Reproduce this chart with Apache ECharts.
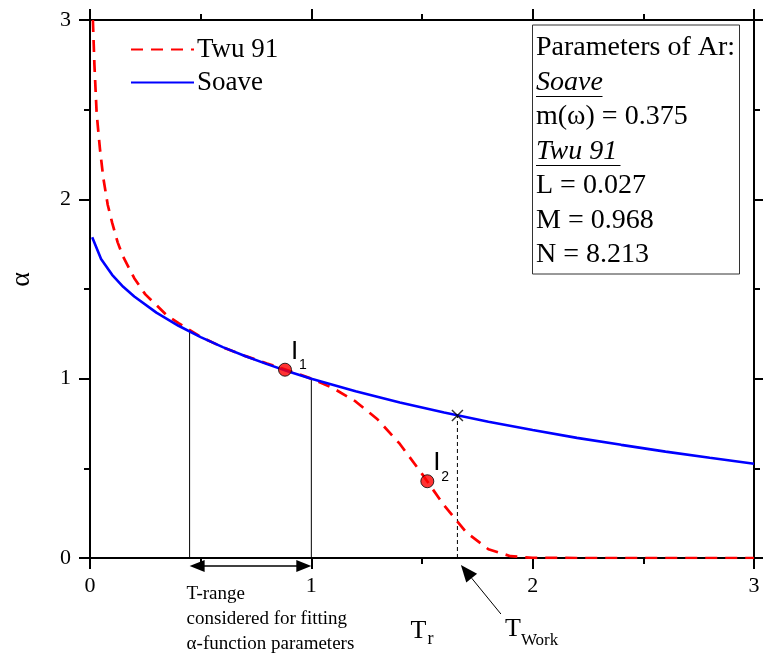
<!DOCTYPE html>
<html><head><meta charset="utf-8">
<script src="https://cdn.jsdelivr.net/npm/echarts@6/dist/echarts.min.js"></script>
<style>html,body{margin:0;padding:0;background:#fff}#c{width:763px;height:653px}</style>
</head><body><div id="c"></div>
<script>
// ---- data ----
const twuTr    = [0.013,0.02,0.03,0.045,0.06,0.08,0.1,0.125,0.15,0.2,0.25,0.3,0.35,0.4,0.5,0.6,0.7,0.8,0.9,1.0,1.1,1.2,1.3,1.4,1.5,1.6,1.7,1.8,1.9,2.0,2.2,2.5,3.0];
const twuAlpha = [3.0,2.75,2.48,2.28,2.12,1.97,1.87,1.76,1.68,1.56,1.47,1.41,1.35,1.31,1.233,1.175,1.127,1.085,1.044,1.0,0.946,0.873,0.772,0.636,0.469,0.293,0.143,0.049,0.010,0.001,0,0,0];
const soaveTr    = [0.01,0.05,0.1,0.15,0.2,0.3,0.4,0.5,0.6,0.7,0.8,0.9,1.0,1.2,1.4,1.6,1.8,2.0,2.2,2.4,2.6,2.8,3.0];
const soaveAlpha = [1.789,1.667,1.579,1.512,1.458,1.368,1.295,1.232,1.176,1.126,1.081,1.039,1.0,0.930,0.867,0.811,0.760,0.714,0.670,0.631,0.593,0.559,0.526];
const fitRangeTr    = [0.45, 1.0];
const fitRangeAlpha = [1.262, 1.0];
const tWork = 1.66, alphaWork = 0.795;
const pointsTr    = [0.881, 1.524];
const pointsAlpha = [1.050, 0.428];
const pointNames  = ['1', '2'];
const xTickLabels = ['0','1','2','3'];
const yTickLabels = ['0','1','2','3'];
const seriesNames = ['Twu 91', 'Soave'];
const paramLines = ['Parameters of Ar:', 'Soave', 'm(\u03c9) = 0.375', 'Twu 91', 'L = 0.027', 'M = 0.968', 'N = 8.213'];

const SERIF = '"Liberation Serif","Times New Roman",serif';
const SANS = '"Liberation Sans",Arial,sans-serif';
const zip = (a, b) => a.map((v, i) => [v, b[i]]);

function makeAxis(position, major, withLabel, extra) {
  const ax = {
    type: 'value', min: 0, max: 3, interval: major ? 1 : 0.5, position: position,
    axisLine: { show: major, onZero: false, lineStyle: { color: '#000', width: 2 } },
    axisTick: { show: true, inside: false, length: major ? 11 : 6, lineStyle: { color: '#000', width: 2 } },
    minorTick: { show: false }, splitLine: { show: false }, minorSplitLine: { show: false },
    axisLabel: { show: false }
  };
  if (withLabel) {
    ax.axisLabel = { show: true, fontFamily: SERIF, fontSize: 22, color: '#000',
      margin: position === 'bottom' ? 17 : 19,
      formatter: v => (position === 'bottom' ? xTickLabels : yTickLabels)[Math.round(v)] };
  }
  return Object.assign(ax, extra || {});
}

const option = {
  animation: false,
  backgroundColor: '#fff',
  grid: { left: 88, right: 9, top: 20, bottom: 94, containLabel: false },
  legend: {
    data: seriesNames, orient: 'vertical', left: 125, top: 31,
    itemWidth: 63, itemHeight: 14, itemGap: 6,
    itemStyle: { opacity: 0 },
    textStyle: { fontFamily: SERIF, fontSize: 27, color: '#000', padding: [0, 0, 0, -2] }
  },
  xAxis: [
    makeAxis('bottom', true, true, {
      name: '{t|T}{s|r}', nameLocation: 'middle', nameGap: 56,
      nameTextStyle: { color: '#000', padding: [0, 0, 0, 0],
        rich: { t: { fontFamily: SERIF, fontSize: 26, color: '#000' },
                s: { fontFamily: SERIF, fontSize: 18, color: '#000', padding: [16, 0, 0, 1] } } }
    }),
    makeAxis('bottom', false, false),
    makeAxis('top', true, false),
    makeAxis('top', false, false)
  ],
  yAxis: [
    makeAxis('left', true, true, {
      name: '\u03b1', nameLocation: 'middle', nameGap: 54,
      nameTextStyle: { fontFamily: SERIF, fontSize: 28, color: '#000', padding: [0, 0, 0, 19] }
    }),
    makeAxis('left', false, false),
    makeAxis('right', true, false),
    makeAxis('right', false, false)
  ],
  series: [
    { name: 'T-range left', type: 'line', data: [[fitRangeTr[0], 0], [fitRangeTr[0], fitRangeAlpha[0]]],
      symbol: 'none', silent: true, z: 1, lineStyle: { color: '#000', width: 1 } },
    { name: 'T-range right', type: 'line', data: [[fitRangeTr[1], 0], [fitRangeTr[1], fitRangeAlpha[1]]],
      symbol: 'none', silent: true, z: 1, lineStyle: { color: '#000', width: 1 } },
    { name: 'T work', type: 'line', data: [[tWork, 0], [tWork, alphaWork]],
      symbol: 'none', silent: true, z: 1, lineStyle: { color: '#000', width: 1, type: [4, 3] } },
    { name: seriesNames[0], type: 'line', data: zip(twuTr, twuAlpha), symbol: 'none', z: 3,
      lineStyle: { color: '#ff0000', width: 2.7, type: [12, 8] }, itemStyle: { color: '#ff0000' } },
    { name: seriesNames[1], type: 'line', data: zip(soaveTr, soaveAlpha), symbol: 'none', z: 4,
      lineStyle: { color: '#0000ff', width: 2.6 }, itemStyle: { color: '#0000ff' } },
    { name: 'cross', type: 'scatter', data: [[tWork, alphaWork]], z: 5, silent: true,
      symbol: 'path://M0,0L10,10M10,0L0,10', symbolSize: 11,
      itemStyle: { color: 'rgba(0,0,0,0)', borderColor: '#000', borderWidth: 1.5 } },
    { name: 'points', type: 'scatter', data: zip(pointsTr, pointsAlpha), z: 6, silent: true,
      symbol: 'circle', symbolSize: 13,
      itemStyle: { color: '#ff0000', borderColor: '#000', borderWidth: 1 } }
  ]
};

const chart = echarts.init(document.getElementById('c'));
chart.setOption(option);

const P = (x, y) => chart.convertToPixel({ gridIndex: 0 }, [x, y]);
const g = [];
// parameter box
const bx = 532.5, by = 25, bw = 207, bh = 249;
g.push({ type: 'rect', shape: { x: bx, y: by, width: bw, height: bh },
  style: { fill: '#fff', stroke: '#333', lineWidth: 1 }, z: 10 });
const lineY = [48, 82.5, 117, 151.5, 186, 220.5, 255];
paramLines.forEach((t, i) => {
  const italic = (i === 1 || i === 3);
  g.push({ type: 'text', z: 11, style: { x: bx + 3.5, y: lineY[i], text: t,
    font: (italic ? 'italic ' : '') + '28px ' + SERIF, fill: '#000', verticalAlign: 'middle' } });
});
g.push({ type: 'line', z: 11, shape: { x1: bx + 3.5, y1: 96.5, x2: bx + 70, y2: 96.5 }, style: { stroke: '#000', lineWidth: 1.2 } });
g.push({ type: 'line', z: 11, shape: { x1: bx + 3.5, y1: 165.5, x2: bx + 88, y2: 165.5 }, style: { stroke: '#000', lineWidth: 1.2 } });

// double arrow for the fitting range
const y0 = P(0, 0)[1];
const xa = P(fitRangeTr[0], 0)[0], xb = P(fitRangeTr[1], 0)[0];
const ya = y0 + 8;
g.push({ type: 'line', z: 8, shape: { x1: xa + 10, y1: ya, x2: xb - 10, y2: ya }, style: { stroke: '#000', lineWidth: 1.5 } });
g.push({ type: 'polygon', z: 8, shape: { points: [[xa, ya], [xa + 15, ya - 6], [xa + 15, ya + 6]] }, style: { fill: '#000' } });
g.push({ type: 'polygon', z: 8, shape: { points: [[xb, ya], [xb - 15, ya - 6], [xb - 15, ya + 6]] }, style: { fill: '#000' } });
g.push({ type: 'text', z: 8, style: { x: xa - 3, y: 582, text: 'T-range\nconsidered for fitting\n\u03b1-function parameters',
  font: '19px ' + SERIF, lineHeight: 25, fill: '#000', verticalAlign: 'top' } });

// T_work arrow
const tip = [P(tWork, 0)[0] + 3.5, y0 + 7];
const ux = 0.633, uy = 0.775;
const bc = [tip[0] + 17 * ux, tip[1] + 17 * uy];
g.push({ type: 'line', z: 8, shape: { x1: bc[0], y1: bc[1], x2: tip[0] + 40, y2: tip[1] + 49 }, style: { stroke: '#000', lineWidth: 1 } });
g.push({ type: 'polygon', z: 8, shape: { points: [tip, [bc[0] - 7 * uy, bc[1] + 7 * ux], [bc[0] + 7 * uy, bc[1] - 7 * ux]] }, style: { fill: '#000' } });
g.push({ type: 'text', z: 8, style: { x: tip[0] + 44, y: 629, text: 'T', font: '26px ' + SERIF, fill: '#000', verticalAlign: 'middle' } });
g.push({ type: 'text', z: 8, style: { x: tip[0] + 60, y: 641, text: 'Work', font: '17px ' + SERIF, fill: '#000', verticalAlign: 'middle' } });

// point labels I1, I2
pointsTr.forEach((t, i) => {
  const p = P(t, pointsAlpha[i]);
  g.push({ type: 'text', z: 9, style: { x: p[0] + 6, y: p[1] - 18, text: 'I', font: '26px ' + SANS, fill: '#000', verticalAlign: 'middle' } });
  g.push({ type: 'text', z: 9, style: { x: p[0] + 14, y: p[1] - 4.5, text: pointNames[i], font: '14px ' + SANS, fill: '#000', verticalAlign: 'middle' } });
});

chart.setOption({ graphic: g });
</script></body></html>
